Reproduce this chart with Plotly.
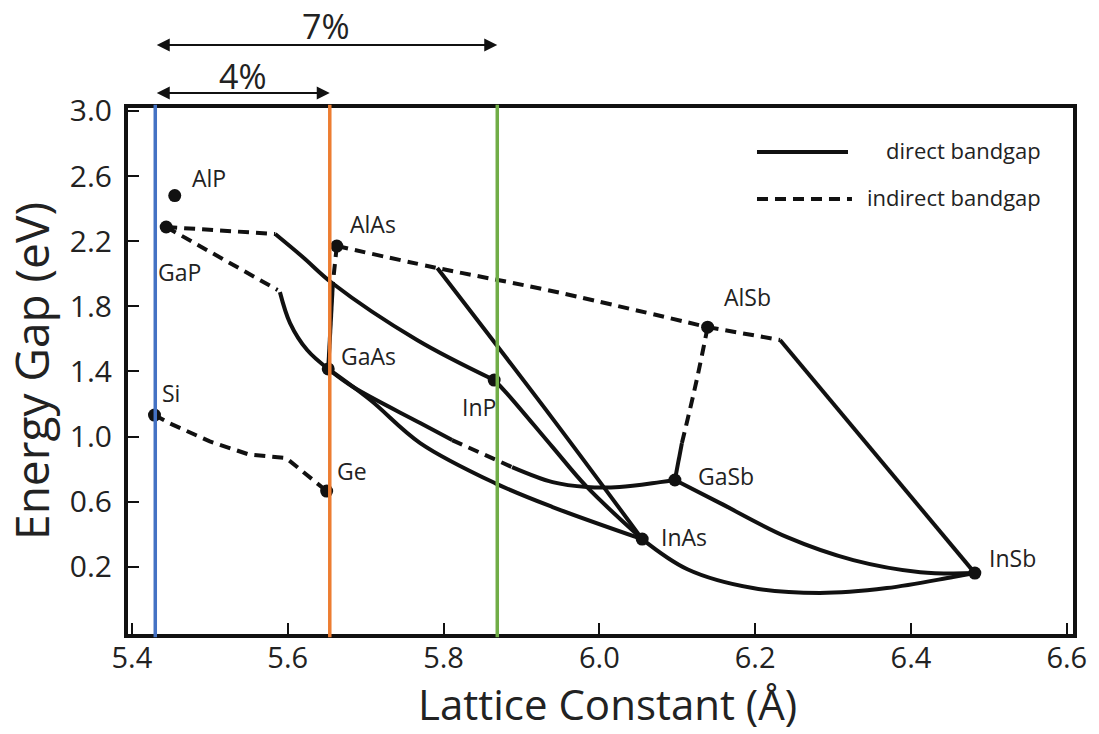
import plotly.graph_objects as go

FONT = "Open Sans"
INK = "#111111"

# ---- binary compounds / elements: lattice constant (Å) and band gap (eV) ----
compounds = ["AlP", "GaP", "AlAs", "AlSb", "GaAs", "InP", "Si", "Ge", "GaSb", "InAs", "InSb"]
lattice = [5.455, 5.444, 5.663, 6.139, 5.652, 5.865, 5.429, 5.650, 6.097, 6.055, 6.482]
bandgap = [2.48, 2.287, 2.17, 1.672, 1.415, 1.347, 1.132, 0.665, 0.733, 0.370, 0.161]

# ---- alloy curves (x = lattice constant, y = band gap) ----
gainp_ind_x = [5.444, 5.584]
gainp_ind_y = [2.287, 2.244]
gainp_dir_x = [5.584, 5.620, 5.657, 5.766, 5.865]
gainp_dir_y = [2.244, 2.100, 1.943, 1.593, 1.347]

gaasp_ind_x = [5.444, 5.587]
gaasp_ind_y = [2.287, 1.900]
gaasp_dir_x = [5.590, 5.603, 5.625, 5.652]
gaasp_dir_y = [1.887, 1.697, 1.531, 1.415]

sige_x = [5.429, 5.449, 5.500, 5.550, 5.598, 5.650]
sige_y = [1.132, 1.080, 0.970, 0.890, 0.868, 0.665]

algaas_ind_x = [5.663, 5.658]
algaas_ind_y = [2.170, 1.943]
algaas_dir_x = [5.658, 5.652]
algaas_dir_y = [1.943, 1.415]

alassb_ind_x = [5.663, 5.792, 5.933, 6.139]
alassb_ind_y = [2.170, 2.035, 1.900, 1.672]

alinas_dir_x = [5.792, 5.940, 6.055]
alinas_dir_y = [2.035, 1.110, 0.370]

alinsb_ind_x = [6.139, 6.232]
alinsb_ind_y = [1.672, 1.593]
alinsb_dir_x = [6.232, 6.482]
alinsb_dir_y = [1.593, 0.161]

inasp_x = [5.865, 5.881, 5.940, 5.984, 6.055]
inasp_y = [1.347, 1.267, 0.935, 0.690, 0.370]

gainas_x = [5.652, 5.706, 5.770, 5.866, 5.940, 6.055]
gainas_y = [1.415, 1.224, 0.960, 0.714, 0.567, 0.370]

gaassb_dir1_x = [5.652, 5.684, 5.770, 5.811]
gaassb_dir1_y = [1.415, 1.304, 1.083, 0.978]
gaassb_ind_x = [5.811, 5.888]
gaassb_ind_y = [0.978, 0.812]
gaassb_dir2_x = [5.888, 5.940, 5.984, 6.026, 6.078, 6.097]
gaassb_dir2_y = [0.812, 0.720, 0.690, 0.690, 0.720, 0.733]

gainsb_x = [6.097, 6.155, 6.241, 6.326, 6.412, 6.482]
gainsb_y = [0.733, 0.591, 0.382, 0.241, 0.167, 0.161]

inassb_x = [6.055, 6.113, 6.197, 6.283, 6.369, 6.454, 6.482]
inassb_y = [0.370, 0.185, 0.069, 0.039, 0.069, 0.137, 0.161]

algasb_ind_x = [6.139, 6.125, 6.106]
algasb_ind_y = [1.672, 1.347, 0.960]
algasb_dir_x = [6.106, 6.097]
algasb_dir_y = [0.960, 0.733]

# substrate lattice constants (Si, GaAs, InP) and mismatch arrows
substrate_a = [5.430, 5.654, 5.869]
substrate_colors = ["#4472C4", "#ED7D31", "#70AD47"]
mismatch_labels = ["7%", "4%"]
mismatch_spans = [(5.430, 5.869), (5.430, 5.654)]

x_ticks = [5.4, 5.6, 5.8, 6.0, 6.2, 6.4, 6.6]
y_ticks = [0.2, 0.6, 1.0, 1.4, 1.8, 2.2, 2.6, 3.0]

# (x, y, dashed?, smooth?)
curves = [
    (gainp_ind_x, gainp_ind_y, True, False),
    (gainp_dir_x, gainp_dir_y, False, True),
    (gaasp_ind_x, gaasp_ind_y, True, False),
    (gaasp_dir_x, gaasp_dir_y, False, True),
    (sige_x, sige_y, True, False),
    (algaas_ind_x, algaas_ind_y, True, False),
    (algaas_dir_x, algaas_dir_y, False, False),
    (alassb_ind_x, alassb_ind_y, True, True),
    (alinas_dir_x, alinas_dir_y, False, True),
    (alinsb_ind_x, alinsb_ind_y, True, False),
    (alinsb_dir_x, alinsb_dir_y, False, False),
    (inasp_x, inasp_y, False, True),
    (gainas_x, gainas_y, False, True),
    (gaassb_dir1_x, gaassb_dir1_y, False, True),
    (gaassb_ind_x, gaassb_ind_y, True, False),
    (gaassb_dir2_x, gaassb_dir2_y, False, True),
    (gainsb_x, gainsb_y, False, True),
    (inassb_x, inassb_y, False, True),
    (algasb_ind_x, algasb_ind_y, True, True),
    (algasb_dir_x, algasb_dir_y, False, False),
]

DASH = "11px,7px"
LW = 4

fig = go.Figure()
for xs, ys, dashed, smooth in curves:
    fig.add_trace(go.Scatter(
        x=xs, y=ys, mode="lines", showlegend=False, hoverinfo="skip",
        line=dict(color=INK, width=LW, dash=DASH if dashed else "solid",
                  shape="spline" if smooth else "linear", smoothing=1.0),
    ))

fig.add_trace(go.Scatter(
    x=lattice, y=bandgap, mode="markers", showlegend=False,
    text=compounds, hovertemplate="%{text}: %{x} Å, %{y} eV<extra></extra>",
    marker=dict(color=INK, size=13),
))

# label placement relative to each dot (pixels)
label_pos = {
    "AlP": (15, 18, "left"), "GaP": (-10, -45, "left"), "AlAs": (11, 22, "left"),
    "AlSb": (14, 30, "left"), "GaAs": (11, 13, "left"), "InP": (-15, -27, "center"),
    "Si": (6, 22, "left"), "Ge": (8, 20, "left"), "GaSb": (21, 4, "left"),
    "InAs": (17, 2, "left"), "InSb": (12, 15, "left"),
}
annotations = []
for name, xv, yv in zip(compounds, lattice, bandgap):
    dx, dy, anchor = label_pos[name]
    annotations.append(dict(
        x=xv, y=yv, xref="x", yref="y", text=name, showarrow=False,
        xanchor=anchor, yanchor="middle", xshift=dx, yshift=dy,
        font=dict(family=FONT, size=23, color="#222222"),
    ))

# substrate lines
shapes = []
for a, c in zip(substrate_a, substrate_colors):
    shapes.append(dict(type="line", xref="x", yref="paper", x0=a, x1=a, y0=-0.006, y1=1.006,
                       line=dict(color=c, width=3.5), layer="above"))

# mismatch arrows above the plot
arrow_y = [1.1198, 1.0285]
label_y = [1.156, 1.060]
for (lo, hi), lab, ay_, ly in zip(mismatch_spans, mismatch_labels, arrow_y, label_y):
    annotations.append(dict(
        x=hi, y=ay_, xref="x", yref="paper", ax=lo, ay=0, axref="x", ayref="pixel",
        text="", showarrow=True, arrowhead=2, arrowside="end+start",
        arrowsize=1.3, arrowwidth=2, arrowcolor=INK,
    ))
    annotations.append(dict(
        x=(lo + hi) / 2, y=ly, xref="x", yref="paper", text=lab, showarrow=False,
        xanchor="center", yanchor="middle",
        font=dict(family=FONT, size=34, color="#222222"),
    ))

# legend
shapes.append(dict(type="line", xref="paper", yref="paper", x0=0.6656, x1=0.7619,
                   y0=0.9163, y1=0.9163, line=dict(color=INK, width=LW)))
shapes.append(dict(type="line", xref="paper", yref="paper", x0=0.6656, x1=0.7661,
                   y0=0.8270, y1=0.8270, line=dict(color=INK, width=LW, dash=DASH)))
for txt, ly in [("direct bandgap", 0.920), ("indirect bandgap", 0.831)]:
    annotations.append(dict(
        x=0.9683, y=ly, xref="paper", yref="paper", text=txt, showarrow=False,
        xanchor="right", yanchor="middle",
        font=dict(family=FONT, size=22, color="#222222"),
    ))

# x-axis title, set just below the tick labels
annotations.append(dict(
    x=0.507, y=-0.1882, xref="paper", yref="paper", text="Lattice Constant (Å)",
    showarrow=False, xanchor="center", yanchor="bottom", borderpad=0,
    font=dict(family=FONT, size=42, color="#222222"),
))

fig.update_layout(
    width=1099, height=734,
    margin=dict(l=128, r=26, t=108, b=100, autoexpand=False),
    paper_bgcolor="white", plot_bgcolor="white",
    font=dict(family=FONT, color="#222222"),
    shapes=shapes, annotations=annotations,
    xaxis=dict(
        range=[5.395, 6.608], tickvals=x_ticks, tickformat=".1f",
        ticks="inside", ticklen=11, tickwidth=2, tickcolor=INK,
        showline=True, linewidth=4, linecolor=INK, mirror=True,
        showgrid=False, zeroline=False, automargin=False,
        tickfont=dict(family=FONT, size=29, color="#222222"),
        ticklabelstandoff=-5,
    ),
    yaxis=dict(
        range=[-0.213, 3.018], tickvals=y_ticks, tickformat=".1f",
        ticks="inside", ticklen=11, tickwidth=2, tickcolor=INK,
        showline=True, linewidth=4, linecolor=INK, mirror=True,
        showgrid=False, zeroline=False, automargin=False,
        tickfont=dict(family=FONT, size=30, color="#222222"),
        ticklabelstandoff=6,
        title=dict(text="Energy Gap (eV)", standoff=8,
                   font=dict(family=FONT, size=46, color="#222222")),
    ),
)

fig.write_html("out.html")
